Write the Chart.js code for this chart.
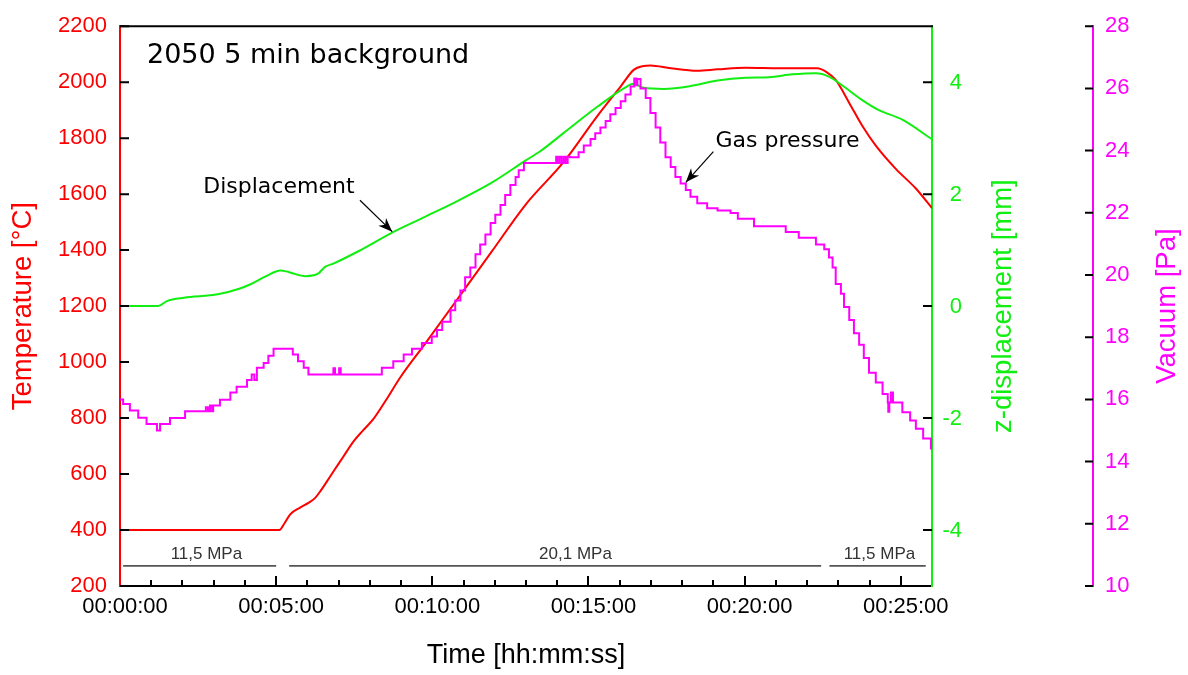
<!DOCTYPE html>
<html>
<head>
<meta charset="utf-8">
<title>2050 5 min background</title>
<script src="https://cdn.jsdelivr.net/npm/chart.js@4"></script>
<style>
  html, body { margin: 0; padding: 0; background: #fff; }
  #wrap { width: 1188px; height: 675px; }
</style>
</head>
<body>
<div id="wrap"><canvas id="c"></canvas></div>
<script>
// Sintering run: temperature, ram displacement and chamber vacuum vs. time (seconds)
const tempTime  = [0, 306, 317, 327, 346, 362, 375, 385, 397, 410, 429, 448, 467, 487, 513, 538, 587, 651, 715, 779, 852, 917, 962, 987, 1006, 1019, 1058, 1109, 1148, 1202, 1269, 1340, 1356, 1375, 1401, 1426, 1452, 1490, 1529, 1560];
const tempValue = [400, 400, 427, 456, 480, 497, 515, 539, 572, 609, 662, 715, 756, 797, 870, 944, 1068, 1232, 1397, 1562, 1714, 1879, 1985, 2044, 2058, 2060, 2050, 2041, 2046, 2052, 2050, 2050, 2038, 2008, 1926, 1844, 1773, 1691, 1620, 1550];

const dispTime  = [0, 73, 90, 123, 188, 229, 251, 281, 308, 319, 330, 356, 372, 382, 394, 410, 458, 522, 587, 651, 715, 779, 808, 852, 917, 968, 987, 1006, 1045, 1096, 1148, 1202, 1247, 1292, 1337, 1362, 1388, 1426, 1458, 1503, 1560];
const dispValue = [0, 0, 0.09, 0.15, 0.21, 0.31, 0.39, 0.535, 0.635, 0.62, 0.59, 0.535, 0.55, 0.59, 0.7, 0.76, 0.98, 1.31, 1.6, 1.89, 2.21, 2.6, 2.77, 3.09, 3.56, 3.89, 3.97, 3.9, 3.88, 3.93, 4.03, 4.08, 4.09, 4.14, 4.16, 4.1, 3.94, 3.68, 3.5, 3.33, 2.98];

const vacTime  = [0, 6, 19, 35, 51, 71, 77, 96, 125, 165,
                  169, 173, 177, 179, 192, 212, 224, 244, 253, 258,
                  263, 276, 285, 295, 332, 342, 353, 362, 410, 413,
                  421, 424, 503, 525, 545, 561, 580, 599, 609, 619,
                  635, 644, 654, 663, 673, 683, 692, 702, 712, 721,
                  731, 740, 750, 760, 766, 776, 838, 840, 844, 848,
                  852, 856, 860, 865, 881, 891, 904, 913, 923, 933,
                  942, 952, 962, 971, 981, 988, 992, 994, 1000, 1010,
                  1019, 1029, 1038, 1048, 1058, 1067, 1077, 1087, 1096, 1109,
                  1128, 1148, 1173, 1187, 1218, 1279, 1304, 1337, 1353, 1362,
                  1369, 1375, 1385, 1391, 1401, 1410, 1420, 1429, 1439, 1452,
                  1465, 1475, 1476, 1478, 1481, 1485, 1503, 1518, 1529, 1543,
                  1558, 1560];
const vacValue = [16.0, 15.85, 15.64, 15.41, 15.21, 15.0, 15.21, 15.4, 15.62, 15.75,
                  15.62, 15.8, 15.62, 15.8, 15.99, 16.22, 16.41, 16.62, 16.8, 16.62,
                  17.02, 17.17, 17.4, 17.63, 17.44, 17.23, 17.02, 16.8, 17.0, 16.8,
                  17.0, 16.8, 17.02, 17.23, 17.44, 17.63, 17.81, 18.02, 18.23, 18.5,
                  18.87, 19.18, 19.5, 19.93, 20.24, 20.67, 20.98, 21.3, 21.67, 21.94,
                  22.25, 22.57, 22.89, 23.15, 23.37, 23.6, 23.8, 23.6, 23.8, 23.6,
                  23.8, 23.6, 23.8, 23.79, 23.95, 24.16, 24.37, 24.56, 24.74, 24.95,
                  25.17, 25.37, 25.59, 25.8, 26.06, 26.32, 26.1, 26.3, 26.0, 25.69,
                  25.21, 24.74, 24.26, 23.79, 23.47, 23.15, 22.94, 22.73, 22.52, 22.31,
                  22.15, 22.07, 21.99, 21.81, 21.57, 21.38, 21.2, 20.98, 20.83, 20.56,
                  20.24, 19.71, 19.4, 18.97, 18.55, 18.13, 17.76, 17.33, 16.86, 16.54,
                  16.17, 15.9, 15.6, 15.9, 16.22, 15.9, 15.59, 15.32, 15.06, 14.74,
                  14.42, 14.42];

// Applied pressure stages (time spans in s) and their labels
const pressStart     = [6, 325, 1363];
const pressEnd       = [300, 1347, 1548];
const pressLabel     = ['11,5 MPa', '20,1 MPa', '11,5 MPa'];
const pressLabelTime = [166, 875, 1459];
const pressLineTemp  = 272;   // drawn on the temperature scale
const pressTextTemp  = 297;

// Axis tick values
const timeTicks = [0, 300, 600, 900, 1200, 1500];
const tempTicks = [200, 400, 600, 800, 1000, 1200, 1400, 1600, 1800, 2000, 2200];
const dispTicks = [-4, -2, 0, 2, 4];
const vacTicks  = [10, 12, 14, 16, 18, 20, 22, 24, 26, 28];

const RED = '#ff0000', GREEN = '#11ee11', MAGENTA = '#ff00ff';
const SANS = "'Liberation Sans', Arial, sans-serif";
const DEJAVU = "'DejaVu Sans', Verdana, sans-serif";

function hms(sec) {
  const h = Math.floor(sec / 3600), m = Math.floor((sec % 3600) / 60), s = Math.round(sec % 60);
  const p = n => String(n).padStart(2, '0');
  return p(h) + ':' + p(m) + ':' + p(s);
}
const pts = (xs, ys) => xs.map((x, i) => ({ x, y: ys[i] }));

const datasets = [
  { label: 'Gas pressure', data: pts(vacTime, vacValue), yAxisID: 'yV', borderColor: MAGENTA,
    borderWidth: 2, stepped: 'before', pointRadius: 0, order: 0 },
  { label: 'Displacement', data: pts(dispTime, dispValue), yAxisID: 'yD', borderColor: GREEN,
    borderWidth: 2, cubicInterpolationMode: 'monotone', pointRadius: 0, order: 1 },
  { label: 'Temperature', data: pts(tempTime, tempValue), yAxisID: 'yT', borderColor: RED,
    borderWidth: 2, cubicInterpolationMode: 'monotone', pointRadius: 0, order: 2 }
];
pressStart.forEach((s, i) => datasets.push({
  label: pressLabel[i], data: [{ x: s, y: pressLineTemp }, { x: pressEnd[i], y: pressLineTemp }],
  yAxisID: 'yT', borderColor: '#555', borderWidth: 1.6, pointRadius: 0, order: 3
}));

// Text annotations with arrows, placed in data coordinates
const notes = [
  { text: 'Displacement', axis: 'yD', t: 160, v: 2.02, tail: [461, 1.89], tip: [523, 1.33] },
  { text: 'Gas pressure', axis: 'yV', t: 1144, v: 24.1, tail: [1140, 23.97], tip: [1087, 22.98] }
];

function arrow(ctx, x0, y0, x1, y1) {
  ctx.beginPath(); ctx.moveTo(x0, y0); ctx.lineTo(x1, y1); ctx.stroke();
  const a = Math.atan2(y1 - y0, x1 - x0), L = 14, W = 5.5;
  ctx.save(); ctx.translate(x1, y1); ctx.rotate(a);
  ctx.beginPath(); ctx.moveTo(0, 0); ctx.lineTo(-L, -W); ctx.lineTo(-L * 0.7, 0); ctx.lineTo(-L, W);
  ctx.closePath(); ctx.fill(); ctx.restore();
}

const decor = {
  id: 'decor',
  afterDraw(chart) {
    const { ctx, chartArea: a, scales: { x, yT, yD, yV } } = chart;
    ctx.save();
    // frame top
    ctx.strokeStyle = '#000'; ctx.lineWidth = 2;
    ctx.beginPath(); ctx.moveTo(a.left, a.top); ctx.lineTo(a.right + 1, a.top); ctx.stroke();

    // inward tick marks
    ctx.beginPath();
    for (let t = 60; t < 1560; t += 60) {
      const px = Math.round(x.getPixelForValue(t));
      const len = t % 300 === 0 ? 10 : 6;
      ctx.moveTo(px, a.bottom); ctx.lineTo(px, a.bottom - len);
    }
    tempTicks.forEach(v => { const py = yT.getPixelForValue(v); ctx.moveTo(a.left, py); ctx.lineTo(a.left + 9, py); });
    dispTicks.forEach(v => { const py = yD.getPixelForValue(v); ctx.moveTo(a.right, py); ctx.lineTo(a.right - 9, py); });
    vacTicks.forEach(v => { const py = yV.getPixelForValue(v); ctx.moveTo(yV.left, py); ctx.lineTo(yV.left - 8, py); });
    ctx.stroke();

    // displacement tick labels, right-aligned so the minus signs hang left
    ctx.fillStyle = GREEN; ctx.font = '22px ' + SANS;
    ctx.textAlign = 'right'; ctx.textBaseline = 'middle';
    dispTicks.forEach(v => ctx.fillText(String(v), yD.left + 30, yD.getPixelForValue(v) + 1));

    // vertical axis titles, reading bottom to top
    const midY = (a.top + a.bottom) / 2;
    const vtitle = (text, cx, color) => {
      ctx.save(); ctx.translate(cx, midY); ctx.rotate(-Math.PI / 2);
      ctx.fillStyle = color; ctx.font = '27.5px ' + SANS;
      ctx.textAlign = 'center'; ctx.textBaseline = 'middle';
      ctx.fillText(text, 0, 0); ctx.restore();
    };
    vtitle('Temperature [°C]', 23, RED);
    vtitle('z-displacement [mm]', yD.left + 71, GREEN);
    vtitle('Vacuum [Pa]', yV.left + 74, MAGENTA);

    // run title
    ctx.fillStyle = '#000'; ctx.font = '27px ' + DEJAVU;
    ctx.textAlign = 'left'; ctx.textBaseline = 'alphabetic';
    ctx.fillText('2050 5 min background', a.left + 27, a.top + 37);

    // curve annotations
    ctx.font = '22px ' + DEJAVU; ctx.lineWidth = 1.2; ctx.strokeStyle = '#000'; ctx.fillStyle = '#000';
    notes.forEach(n => {
      const s = chart.scales[n.axis];
      ctx.fillText(n.text, x.getPixelForValue(n.t), s.getPixelForValue(n.v));
      arrow(ctx, x.getPixelForValue(n.tail[0]), s.getPixelForValue(n.tail[1]),
                 x.getPixelForValue(n.tip[0]), s.getPixelForValue(n.tip[1]));
    });

    // pressure stage labels
    ctx.font = '17px ' + SANS; ctx.fillStyle = '#333'; ctx.textAlign = 'center';
    pressLabel.forEach((lab, i) => ctx.fillText(lab, x.getPixelForValue(pressLabelTime[i]), yT.getPixelForValue(pressTextTemp)));
    ctx.restore();
  }
};

const tickFont = { family: SANS, size: 22 };

new Chart(document.getElementById('c'), {
  type: 'line',
  data: { datasets },
  plugins: [decor],
  options: {
    responsive: true, maintainAspectRatio: false, animation: false,
    layout: { padding: { top: 19, left: 0, right: 0, bottom: 0 } },
    plugins: { legend: { display: false }, tooltip: { enabled: false } },
    elements: { line: { borderCapStyle: 'butt' } },
    scales: {
      x: {
        type: 'linear', position: 'bottom', min: 0, max: 1560,
        grid: { display: false, drawTicks: false },
        border: { display: true, color: '#000', width: 2 },
        ticks: { color: '#000', font: tickFont, padding: 8, labelOffset: 5, maxRotation: 0, autoSkip: false, callback: v => hms(v) },
        afterBuildTicks: s => { s.ticks = timeTicks.map(v => ({ value: v })); },
        title: { display: true, text: 'Time [hh:mm:ss]', color: '#000', font: { family: SANS, size: 27 }, padding: { top: 0, bottom: 3 } },
        afterFit: s => { s.height = 89; }
      },
      yT: {
        type: 'linear', position: 'left', min: 200, max: 2200,
        grid: { display: false, drawTicks: false },
        border: { display: true, color: RED, width: 2 },
        ticks: { color: RED, font: tickFont, padding: 13, callback: v => String(v) },
        afterBuildTicks: s => { s.ticks = tempTicks.map(v => ({ value: v })); },
        afterFit: s => { s.width = 120; }
      },
      yD: {
        type: 'linear', position: 'right', weight: 0, min: -5, max: 5,
        grid: { display: false, drawTicks: false },
        border: { display: true, color: GREEN, width: 2 },
        ticks: { display: false },
        afterBuildTicks: s => { s.ticks = dispTicks.map(v => ({ value: v })); },
        afterFit: s => { s.width = 161; }
      },
      yV: {
        type: 'linear', position: 'right', weight: 1, min: 10, max: 28,
        grid: { display: false, drawTicks: false },
        border: { display: true, color: MAGENTA, width: 2 },
        ticks: { color: MAGENTA, font: tickFont, padding: 12, crossAlign: 'near', callback: v => String(v) },
        afterBuildTicks: s => { s.ticks = vacTicks.map(v => ({ value: v })); },
        afterFit: s => { s.width = 95; }
      }
    }
  }
});
</script>
</body>
</html>
